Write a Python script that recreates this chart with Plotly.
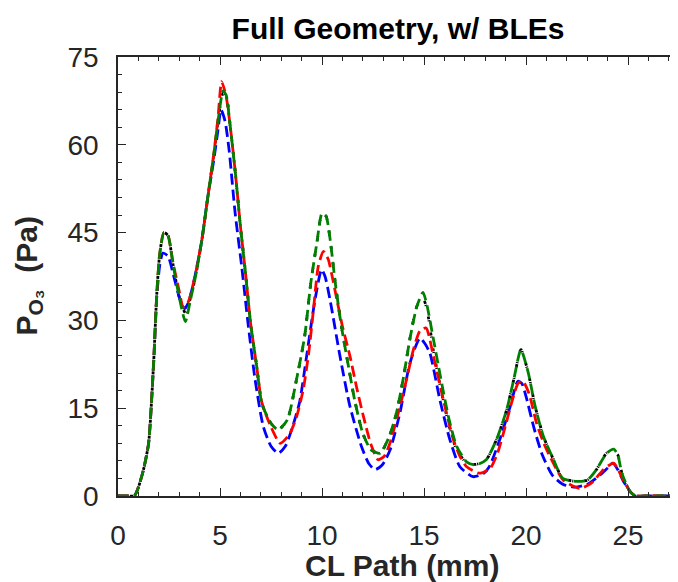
import plotly.graph_objects as go

# ---- data ----
green_x = [0, 0.5, 0.8, 1.0, 1.25, 1.5, 1.75, 1.9, 2.05, 2.25, 2.45, 2.7, 3.0, 3.3, 3.55, 3.8, 4.1, 4.4, 4.7, 4.9,
           5.15, 5.3, 5.5, 5.75, 6.0, 6.25, 6.5, 6.8, 7.05, 7.5, 7.85, 8.3, 8.75, 9.15, 9.45, 9.75, 10.0, 10.2, 10.4, 10.65,
           10.95, 11.3, 11.6, 12.0, 12.4, 12.85, 13.3, 13.65, 14.0, 14.3, 14.65, 14.95, 15.15, 15.45, 15.8, 16.2, 16.6, 17.1, 17.55, 18.05,
           18.55, 19.05, 19.4, 19.75, 20.1, 20.45, 20.85, 21.35, 21.8, 22.5, 23.0, 23.45, 23.95, 24.3, 24.5, 24.7, 25.1, 25.4, 25.8, 27.45]
green_y = [0, 0, 0, 1.5, 4.5, 9, 23, 34.5, 41.5, 45, 44.5, 39.5, 34, 29.8, 33.5, 37.5, 43.5, 51, 58.5, 64,
           69.2, 68.5, 63.2, 55.3, 46.1, 38.1, 29.5, 22.1, 15.8, 12.4, 11.3, 13, 19.9, 27.3, 36.4, 43.3, 48.3, 47.8, 43.8, 36.4,
           29.0, 22.1, 16.4, 10.7, 7.9, 7.3, 10.2, 14.2, 20.4, 26.7, 32.4, 34.8, 32.5, 27, 20.5, 13.5, 8.5, 5.8, 5.3, 6.2,
           9.6, 14.7, 19.9, 25, 21.2, 15.3, 10.2, 6.2, 3.0, 2.5, 2.7, 4.5, 7.3, 8.0, 7.0, 3.9, 0.7, 0, 0, 0]

black_x = list(green_x)
black_y = [0, 0, 0, 1.5, 4.5, 9, 23, 34.5, 41.5, 45, 44.5, 39.5, 34, 31.3, 33.8, 37.5, 43.5, 51, 58.5, 64,
           68.8, 68.5, 63.2, 55.3, 46.1, 38.1, 29.5, 22.1, 15.8, 12.4, 11.3, 13, 19.9, 27.3, 36.4, 43.3, 48.3, 47.8, 43.8, 36.4,
           29.0, 22.1, 16.4, 10.7, 7.9, 7.3, 10.2, 14.2, 20.4, 26.7, 32.4, 33.8, 31.8, 25.0, 18.7, 12.4, 7.9, 5.6, 5.4, 6.2,
           9.6, 14.7, 19.9, 25, 21.2, 15.3, 10.2, 6.2, 3.0, 2.5, 2.7, 4.5, 7.3, 7.5, 7.0, 3.9, 0.7, 0, 0, 0]

red_x = [0, 0.5, 0.8, 1.0, 1.25, 1.5, 1.75, 1.9, 2.05, 2.25, 2.45, 2.7, 3.0, 3.2, 3.45, 3.77, 4.1, 4.4, 4.7, 4.9,
         5.08, 5.3, 5.5, 5.75, 6.0, 6.25, 6.5, 6.8, 7.05, 7.5, 7.95, 8.4, 8.75, 9.08, 9.35, 9.58, 9.82, 10.07, 10.3, 10.5,
         10.75, 11.0, 11.37, 11.7, 12.03, 12.4, 12.75, 13.05, 13.33, 13.82, 14.15, 14.48, 14.8, 15.1, 15.46, 15.95, 16.44, 16.8, 17.09, 17.7,
         18.24, 18.6, 18.89, 19.38, 19.62, 19.85, 20.15, 20.52, 20.85, 21.18, 21.83, 22.65, 23.2, 23.79, 24.05, 24.3, 24.5, 24.77, 25.1, 25.35,
         25.8, 27.45]
red_y = [0, 0, 0, 1.5, 4.5, 9, 23, 34.5, 41.5, 45, 44.5, 39.8, 35, 32.2, 33.2, 37.5, 43.5, 51, 58.5, 64.5,
         70.8, 68.3, 63.2, 55.3, 46.1, 38.1, 29.5, 22.1, 16, 11.8, 9.0, 10.5, 13.5, 18.2, 24.5, 31.8, 39.3, 41.8, 40.5, 37.5,
         33.2, 29, 23.9, 18.5, 13.6, 8.8, 6.2, 6.8, 9.0, 15.3, 20, 25, 28.2, 28.7, 23.9, 16.4, 9.6, 6.5, 5.0, 3.9,
         4.7, 7.3, 10.7, 17.0, 19.3, 19.6, 17.5, 12.4, 9.2, 6.7, 2.7, 1.3, 2.2, 4.5, 5.2, 5.6, 4.6, 2.7, 0.8, 0,
         0, 0]

blue_x = [0, 0.5, 0.8, 1.0, 1.25, 1.5, 1.75, 1.9, 2.05, 2.2, 2.45, 2.7, 3.0, 3.25, 3.45, 3.77, 4.1, 4.4, 4.7, 4.9,
          5.05, 5.25, 5.45, 5.74, 6.06, 6.39, 6.72, 7.12, 7.5, 7.86, 8.2, 8.51, 8.9, 9.25, 9.66, 9.98, 10.15, 10.39, 10.88, 11.37,
          11.94, 12.3, 12.6, 12.95, 13.33, 13.82, 14.31, 14.8, 15.05, 15.29, 15.78, 16.27, 16.76, 17.4, 17.9, 18.2, 18.7, 19.2, 19.6, 19.8,
          20.0, 20.4, 20.8, 21.3, 21.8, 22.4, 23.0, 23.6, 24.0, 24.25, 24.5, 24.75, 25.1, 25.35, 25.8, 27.45]
blue_y = [0, 0, 0, 1.5, 4.5, 9, 23, 34, 39.5, 41.5, 41, 38, 34, 32, 33, 37.5, 43.5, 51, 57.5, 62.5,
          66, 64, 59, 48.4, 39.3, 29, 19.9, 11.9, 8.5, 7.3, 8.5, 11.3, 16, 24, 33.6, 38.7, 37.5, 33.6, 23.9, 15.3,
          8.4, 5.5, 4.5, 5.3, 7.8, 14.2, 22.7, 27, 26, 24.4, 16.4, 9.6, 5.0, 3.3, 3.8, 5, 9.5, 15, 19.6, 19.2,
          17, 11.5, 7, 3.5, 2, 1.5, 2, 3.5, 4.8, 5.6, 4.5, 2.7, 0.8, 0, 0, 0]

x_ticks = [0, 5, 10, 15, 20, 25]
y_ticks = [0, 15, 30, 45, 60, 75]

AXC = "#262626"
FONT = "Liberation Sans, Arial, Helvetica, sans-serif"

fig = go.Figure()
series = [
    (black_x, black_y, "black", "1px,11px,3px,1px"),
    (blue_x, blue_y, "#0000ff", "11px,5px"),
    (red_x, red_y, "#ff0000", "11px,5px"),
    (green_x, green_y, "#008000", "11px,5px"),
]
for xs, ys, col, dash in series:
    fig.add_trace(go.Scatter(x=xs, y=ys, mode="lines",
                             line=dict(color=col, width=2.8, dash=dash, shape="spline", smoothing=0.6),
                             hoverinfo="skip", showlegend=False))
# invisible trace so the right-hand tick axis is drawn
fig.add_trace(go.Scatter(x=[None], y=[None], yaxis="y2", mode="lines", showlegend=False, hoverinfo="skip"))

# page body has an 8px margin, so the figure is 8px smaller than the window
fig.update_layout(
    width=670, height=574,
    margin=dict(l=110, r=0, t=49, b=86),
    plot_bgcolor="white", paper_bgcolor="white",
    showlegend=False,
    font=dict(family=FONT, color=AXC),
    title=dict(text="<b>Full Geometry, w/ BLEs</b>", x=0.5, xref="paper", xanchor="center",
               y=1 - 20 / 574, yref="container", yanchor="middle",
               font=dict(family=FONT, size=30, color="black")),
    xaxis=dict(range=[0, 27.45], tickvals=x_ticks, ticks="inside", ticklen=8, tickwidth=1.2,
               tickcolor=AXC, showline=True, linecolor=AXC, linewidth=1.5, mirror="ticks",
               minor=dict(dtick=1, ticks="inside", ticklen=4, tickcolor=AXC, tickwidth=1),
               showgrid=False, zeroline=False, tickfont=dict(size=28, color=AXC),
               ticklabelstandoff=14, automargin=False),
    yaxis=dict(range=[0, 75], tickvals=y_ticks, ticks="inside", ticklen=8, tickwidth=1.2,
               tickcolor=AXC, showline=True, linecolor=AXC, linewidth=1.5, mirror=False,
               minor=dict(dtick=3, ticks="inside", ticklen=4, tickcolor=AXC, tickwidth=1),
               showgrid=False, zeroline=False, tickfont=dict(size=28, color=AXC),
               ticklabelstandoff=12, automargin=False),
    yaxis2=dict(range=[0, 75], overlaying="y", side="right", tickvals=[15, 30, 45, 60],
                ticks="inside", ticklen=6, tickcolor=AXC, showticklabels=False,
                showline=False, showgrid=False, zeroline=False, automargin=False),
    annotations=[
        dict(text="<b>CL Path (mm)</b>", xref="paper", yref="paper", x=0.507, y=(488 - 557) / 439,
             xanchor="center", yanchor="middle", showarrow=False,
             font=dict(family=FONT, size=30, color=AXC)),
        dict(text="<b>P<sub>O₃</sub>  (Pa)</b>", xref="paper", yref="paper", x=(20 - 110) / 560, y=0.5,
             xanchor="center", yanchor="middle", textangle=-90, showarrow=False,
             font=dict(family=FONT, size=30, color=AXC)),
    ],
)

fig.write_html("out.html")
